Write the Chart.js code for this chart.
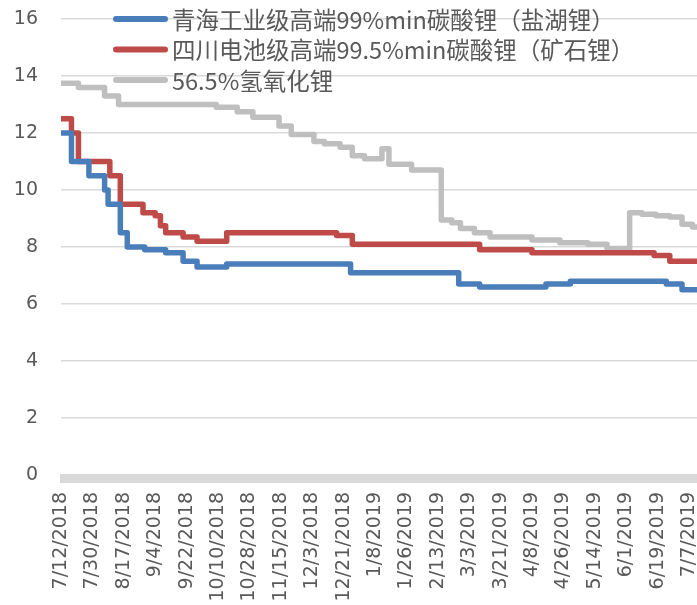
<!DOCTYPE html>
<html><head><meta charset="utf-8">
<script src="https://cdn.jsdelivr.net/npm/chart.js@4.4.0/dist/chart.umd.min.js"></script>
<style>html,body{margin:0;padding:0;background:#fff;}#wrap{width:697px;height:605px;position:relative;}</style>
</head><body><div id="wrap"><canvas id="c"></canvas></div>
<script>
// x axis tick labels (every 18 days)
const xTickLabels = ['7/12/2018','7/30/2018','8/17/2018','9/4/2018','9/22/2018','10/10/2018','10/28/2018','11/15/2018','12/3/2018','12/21/2018','1/8/2019','1/26/2019','2/13/2019','3/3/2019','3/21/2019','4/8/2019','4/26/2019','5/14/2019','6/1/2019','6/19/2019','7/7/2019'];
const yTickValues = [0,2,4,6,8,10,12,14,16];
const lastDay = 364.6;

const seriesNames = ['青海工业级高端99%min碳酸锂（盐湖锂）','四川电池级高端99.5%min碳酸锂（矿石锂）','56.5%氢氧化锂'];
const seriesColors = ['#4a7ebb','#be4b48','#bfbfbf'];

// change points: day offset from 7/12/2018 and the new price
const qinghaiDays   = [0, 6, 16, 25, 27, 34, 38, 48, 60, 70, 78, 95, 166, 228, 240, 278, 292, 347, 356];
const qinghaiValues = [12.0, 11.0, 10.5, 10.0, 9.5, 8.5, 8.0, 7.9, 7.8, 7.5, 7.3, 7.4, 7.1, 6.7, 6.6, 6.7, 6.8, 6.7, 6.5];

const sichuanDays   = [0, 6, 10, 28, 34, 47, 54, 57, 60, 70, 78, 95, 158, 167, 240, 270, 340, 349];
const sichuanValues = [12.5, 12.0, 11.0, 10.5, 9.5, 9.2, 9.1, 8.75, 8.5, 8.35, 8.2, 8.5, 8.4, 8.1, 7.9, 7.8, 7.7, 7.5];

const hydroxideDays   = [0, 10, 25, 33, 89, 101, 110, 125, 132, 145, 151, 160, 167, 174, 184, 188, 201, 218, 224, 229, 237, 246, 270, 286, 302, 313, 326, 333, 341, 349, 356, 362];
const hydroxideValues = [13.75, 13.6, 13.3, 13.0, 12.9, 12.75, 12.55, 12.25, 11.95, 11.7, 11.62, 11.5, 11.2, 11.1, 11.45, 10.9, 10.7, 8.95, 8.85, 8.65, 8.5, 8.35, 8.25, 8.15, 8.1, 7.95, 9.2, 9.15, 9.1, 9.05, 8.8, 8.7];

function parseDay(s){const p=s.split('/').map(Number);return Date.UTC(p[2],p[0]-1,p[1]);}
const t0 = parseDay(xTickLabels[0]);
const tickDays = xTickLabels.map(s => Math.round((parseDay(s)-t0)/86400000));
const labelByDay = {}; tickDays.forEach((d,i)=>labelByDay[d]=xTickLabels[i]);

function pts(days, vals){
  const a = days.map((d,i)=>({x:d,y:vals[i]}));
  a.push({x:lastDay,y:vals[vals.length-1]});
  return a;
}
const allSeries = [[qinghaiDays,qinghaiValues],[sichuanDays,sichuanValues],[hydroxideDays,hydroxideValues]];

const axisBand = {
  id:'axisBand',
  beforeDatasetsDraw(chart){
    const {ctx, chartArea, scales} = chart;
    const y0 = scales.y.getPixelForValue(0);
    ctx.save(); ctx.fillStyle = '#d9d9d9';
    ctx.fillRect(chartArea.left-1, y0-1, chartArea.right-chartArea.left+1, 9);
    ctx.restore();
  }
};
const customLegend = {
  id:'customLegend',
  afterDraw(chart){
    const ctx = chart.ctx;
    ctx.save();
    ctx.font = '23.5px "Noto Sans CJK SC", sans-serif';
    ctx.textBaseline = 'middle';
    seriesNames.forEach((n,i)=>{
      const y = 19 + i*30.5;
      ctx.strokeStyle = seriesColors[i]; ctx.lineWidth = 6; ctx.lineCap = 'round';
      ctx.beginPath(); ctx.moveTo(116,y); ctx.lineTo(165,y); ctx.stroke();
      ctx.fillStyle = '#595959';
      ctx.fillText(n, 172, y+1);
    });
    ctx.restore();
  }
};

new Chart(document.getElementById('c'), {
  type:'line',
  data:{datasets: allSeries.map((s,i)=>({
    label: seriesNames[i], data: pts(s[0],s[1]), stepped:true,
    borderColor: seriesColors[i], backgroundColor: seriesColors[i],
    borderWidth:5.5, pointRadius:0, borderJoinStyle:'round', borderCapStyle:'round', fill:false
  }))},
  options:{
    responsive:true, maintainAspectRatio:false, animation:false, devicePixelRatio:1,
    layout:{padding:{top:19,right:0,left:0,bottom:0}},
    plugins:{legend:{display:false}, tooltip:{enabled:false}},
    scales:{
      x:{type:'linear', min:0, max:lastDay,
        grid:{display:false, drawTicks:false}, border:{display:false},
        afterBuildTicks(scale){ scale.ticks = tickDays.map(v=>({value:v})); },
        afterFit(scale){ scale.height = 130; scale.paddingLeft = 0; scale.paddingRight = 0; },
        ticks:{autoSkip:false, minRotation:90, maxRotation:90, padding:17, color:'#595959',
          font:{family:'"DejaVu Sans", sans-serif', size:19},
          callback(v){ return labelByDay[v] || ''; }}
      },
      y:{min:0, max:16,
        afterBuildTicks(scale){ scale.ticks = yTickValues.map(v=>({value:v})); },
        afterFit(scale){ scale.width = 61; scale.paddingTop = 0; scale.paddingBottom = 0; },
        grid:{drawTicks:false, color:(c)=> c.tick && c.tick.value===0 ? 'rgba(0,0,0,0)' : '#d9d9d9', lineWidth:1.5},
        border:{display:false},
        ticks:{padding:23, color:'#595959', font:{family:'"DejaVu Sans", sans-serif', size:19}}
      }
    }
  },
  plugins:[axisBand, customLegend]
});
</script></body></html>
